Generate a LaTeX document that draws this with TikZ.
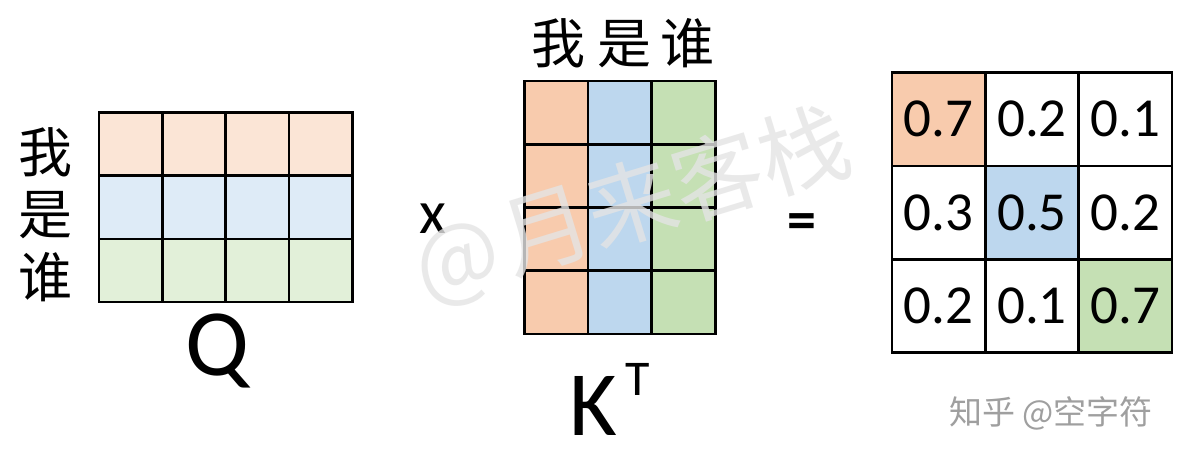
\documentclass[tikz,border=0pt]{standalone}
\usepackage{fontspec}
\setmainfont{Carlito}
\newfontfamily\cjk{Noto Sans CJK SC}
\newcommand{\fsz}[1]{\fontsize{#1pt}{#1pt}\selectfont}
\definecolor{qo}{HTML}{FBE5D6}
\definecolor{qb}{HTML}{DEEBF7}
\definecolor{qg}{HTML}{E2F0D9}
\definecolor{ko}{HTML}{F8CBAD}
\definecolor{kb}{HTML}{BDD7EE}
\definecolor{kg}{HTML}{C5E0B4}
\definecolor{wmgray}{HTML}{E4E4E4}
\begin{document}
\begin{tikzpicture}[x=1pt,y=-1pt,
  cell/.style={draw=black, line width=2.8pt, inner sep=0pt, outer sep=0pt},
  qcell/.style={cell, minimum width=63.3pt, minimum height=63.1pt},
  kcell/.style={cell, minimum width=63.6pt, minimum height=63.25pt},
  rcell/.style={cell, minimum width=93.3pt, minimum height=93.3pt, font=\fsz{55}},
  cjklab/.style={font=\cjk\fsz{54}, inner sep=0pt},
  latin/.style={inner sep=0pt, anchor=base}]
\useasboundingbox (0,0) rectangle (1192,460);
\fill[white] (0,0) rectangle (1192,460);
% Q matrix
\foreach \col [count=\i from 0] in {qo,qb,qg}{
  \foreach \c in {0,...,3}{
    \node[qcell, fill=\col] (q-\i-\c) at ({99+63.3*\c+31.65},{112.7+63.1*\i+31.55}) {};
  }
}
\node[cjklab] (lw) at (46,152) {我};
\node[cjklab] (ls) at (46,215) {是};
\node[cjklab] (lh) at (46,277) {谁};
\node[latin, font=\fsz{95}] (Q) at (217,375) {Q};
% times
\node[latin, font=\fsz{62}] (times) at (433,233) {x};
% K^T matrix
\foreach \col [count=\c from 0] in {ko,kb,kg}{
  \foreach \i in {0,...,3}{
    \node[kcell, fill=\col] (k-\i-\c) at ({524.3+63.6*\c+31.8},{81+63.25*\i+31.6}) {};
  }
}
\node[cjklab] (top) at (623,43) {我\hspace{12pt}是\hspace{9pt}谁};
\node[latin, font=\fsz{92}] (K) at (593,435) {K};
\node[latin, font=\fsz{50}] (T) at (638,395) {T};
% equals
\node[font=\bfseries\fsz{58}, inner sep=0pt] (eq) at (802,226.5) {=};
% result matrix
\foreach \r/\c/\v/\f in {0/0/0.7/ko,0/1/0.2/white,0/2/0.1/white,
                         1/0/0.3/white,1/1/0.5/kb,1/2/0.2/white,
                         2/0/0.2/white,2/1/0.1/white,2/2/0.7/kg}{
  \node[rcell, fill=\f] (r-\r-\c) at ({892+93.3*\c+46.65},{72.7+93.3*\r+46.65}) {\v};
}
% watermarks
\node[font=\cjk\fsz{90}, text=wmgray, opacity=0.8, rotate=17] (wm) at (632,206) {@\hspace{6pt}月来客栈};
\node[font=\cjk\fsz{33}, text=gray!75] (zh) at (1051,413) {知乎 @空字符};
\end{tikzpicture}
\end{document}
